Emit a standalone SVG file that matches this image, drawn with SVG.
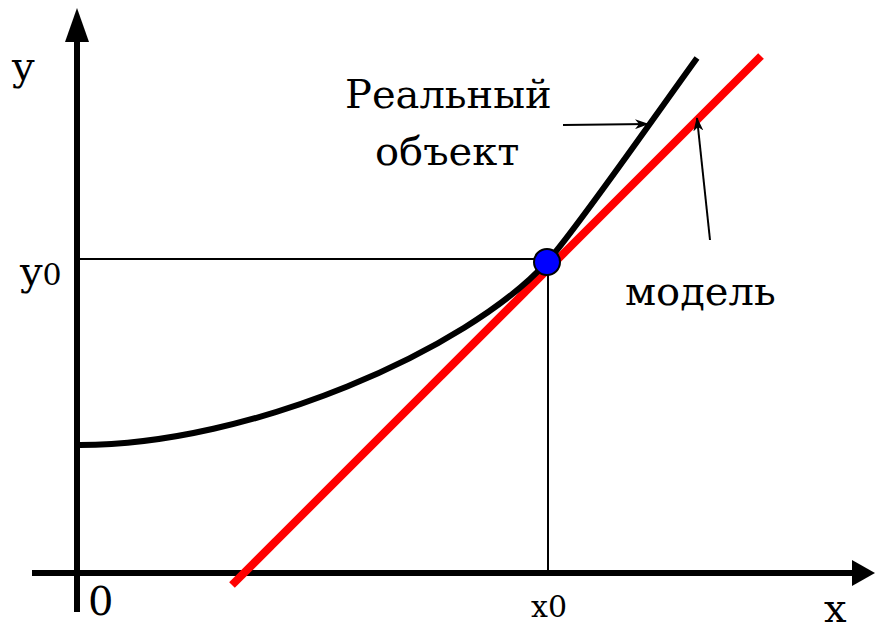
<svg xmlns="http://www.w3.org/2000/svg" width="875" height="630" viewBox="0 0 875 630">
<style>
text{font-family:'DejaVu Serif','Liberation Serif',serif;fill:#000}
.big{font-size:40px}
.sub{font-size:30px}
.thin{stroke:#000;stroke-width:2;fill:none}
</style>
<defs>
<marker id="ah" markerWidth="14" markerHeight="10" refX="13" refY="5" orient="auto" markerUnits="userSpaceOnUse">
<path d="M0,0 L14,5 L0,10 L4,5 Z" fill="#000"/>
</marker>
</defs>
<rect width="875" height="630" fill="#fff"/>
<g id="axes">
<line x1="77" y1="612" x2="77" y2="40" stroke="#000" stroke-width="6"/>
<polygon points="77,8 65,42 89,42" fill="#000"/>
<line x1="32" y1="573" x2="855" y2="573" stroke="#000" stroke-width="6"/>
<polygon points="875,573 852,560 852,586" fill="#000"/>
</g>
<g id="guides">
<line class="thin" x1="80" y1="259" x2="547" y2="259"/>
<line class="thin" x1="548" y1="262" x2="548" y2="573"/>
</g>
<g id="model">
<line x1="232" y1="585" x2="761" y2="56" stroke="#ff0000" stroke-width="8"/>
</g>
<g id="real-object">
<path d="M80,445 C250,445 467,350 547,262 C575,231 645,130 697,58" fill="none" stroke="#000" stroke-width="6"/>
</g>
<g id="point">
<circle cx="547" cy="262" r="13" fill="#0000ff" stroke="#000" stroke-width="2"/>
</g>
<g id="connectors">
<line class="thin" x1="563" y1="125" x2="648" y2="124" marker-end="url(#ah)"/>
<line class="thin" x1="710" y1="240" x2="697" y2="118" marker-end="url(#ah)"/>
</g>
<g id="labels">
<text class="big" x="12" y="80">y</text>
<text x="20" y="285"><tspan class="big">y</tspan><tspan class="sub">0</tspan></text>
<text class="big" x="88" y="615">0</text>
<text class="sub" x="531" y="617">x0</text>
<text class="big" x="824" y="622">x</text>
<text class="big" x="345" y="108">Реальный</text>
<text class="big" x="375" y="165">объект</text>
<text class="big" x="625" y="305">модель</text>
</g>
</svg>
